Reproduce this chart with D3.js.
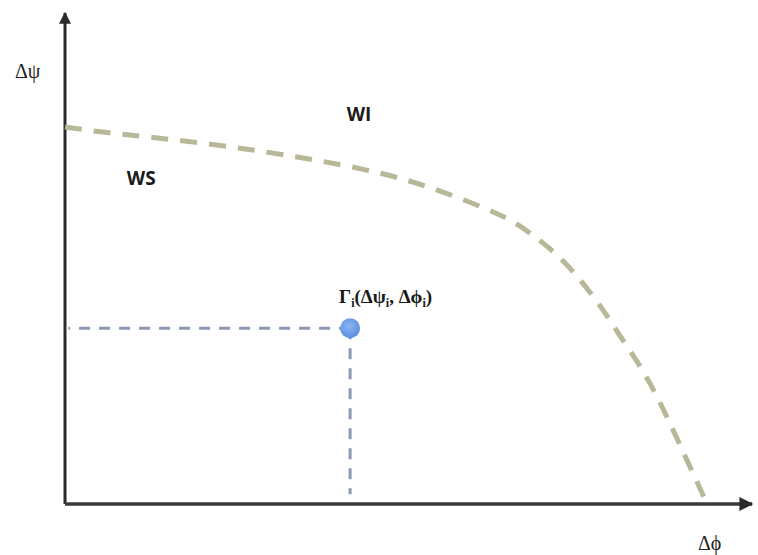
<!DOCTYPE html>
<html>
<head>
<meta charset="utf-8">
<script src="https://cdn.jsdelivr.net/npm/d3@7"></script>
<style>
  body { margin: 0; background: #fff; }
  svg { display: block; }
</style>
</head>
<body>
<svg width="758" height="555"></svg>
<script>
'use strict';

// boundary curve between the two regions (normalised units)
const boundaryX = [0, 0.047, 0.197, 0.342, 0.459, 0.531, 0.619, 0.658, 0.696, 0.725, 0.754, 0.782, 0.805, 0.830, 0.852, 0.873, 0.892, 0.934];
const boundaryY = [0.768, 0.758, 0.737, 0.707, 0.676, 0.646, 0.599, 0.572, 0.532, 0.497, 0.450, 0.399, 0.348, 0.297, 0.246, 0.187, 0.130, 0.002];

// the marked operating point
const pointX = [0.415];
const pointY = [0.358];

const regionLabels = ['WI', 'WS'];
const regionX = [0.41, 0.09];
const regionY = [0.78, 0.65];

const svg = d3.select('svg');

const x = d3.scaleLinear().domain([0, 1]).range([65, 752]);
const y = d3.scaleLinear().domain([0, 1]).range([504, 13]);

const defs = svg.append('defs');

defs.append('marker')
  .attr('id', 'arrow')
  .attr('viewBox', '0 0 10 10')
  .attr('refX', 9)
  .attr('refY', 5)
  .attr('markerWidth', 4)
  .attr('markerHeight', 4)
  .attr('markerUnits', 'strokeWidth')
  .attr('orient', 'auto')
  .append('path')
  .attr('d', 'M0,0 L10,5 L0,10 z')
  .attr('fill', '#2b2b2b');

const grad = defs.append('radialGradient')
  .attr('id', 'dot')
  .attr('cx', '45%')
  .attr('cy', '40%')
  .attr('r', '60%');
grad.append('stop').attr('offset', '0%').attr('stop-color', '#8fb4f2');
grad.append('stop').attr('offset', '100%').attr('stop-color', '#5b8fe0');

// axes
svg.append('line')
  .attr('x1', x(0)).attr('y1', y(0))
  .attr('x2', x(0)).attr('y2', y(1))
  .attr('stroke', '#2b2b2b')
  .attr('stroke-width', 3)
  .attr('marker-end', 'url(#arrow)');

svg.append('line')
  .attr('x1', x(0)).attr('y1', y(0))
  .attr('x2', x(1)).attr('y2', y(0))
  .attr('stroke', '#3a3a3a')
  .attr('stroke-width', 3.5)
  .attr('marker-end', 'url(#arrow)');

// projection lines from the point
const guides = svg.append('g')
  .attr('stroke', '#8a9ab3')
  .attr('stroke-width', 3)
  .attr('stroke-dasharray', '11,9')
  .attr('fill', 'none');

guides.append('line')
  .attr('x1', x(pointX[0])).attr('y1', y(pointY[0]))
  .attr('x2', x(0.005)).attr('y2', y(pointY[0]));

guides.append('line')
  .attr('x1', x(pointX[0])).attr('y1', y(pointY[0]))
  .attr('x2', x(pointX[0])).attr('y2', y(0.02));

// boundary
const curve = boundaryX.map((d, i) => [d, boundaryY[i]]);
const line = d3.line()
  .x(d => x(d[0]))
  .y(d => y(d[1]))
  .curve(d3.curveBasis);

svg.append('path')
  .datum(curve)
  .attr('d', line)
  .attr('fill', 'none')
  .attr('stroke', '#b8b798')
  .attr('stroke-width', 5)
  .attr('stroke-dasharray', '17,12');

svg.append('circle')
  .attr('cx', x(pointX[0]))
  .attr('cy', y(pointY[0]))
  .attr('r', 10)
  .attr('fill', 'url(#dot)');

// labels
svg.selectAll('.region')
  .data(regionLabels)
  .join('text')
  .attr('class', 'region')
  .attr('x', (d, i) => x(regionX[i]))
  .attr('y', (d, i) => y(regionY[i]))
  .attr('font-family', 'Open Sans, Lato, sans-serif')
  .attr('font-weight', 'bold')
  .attr('font-size', 19)
  .attr('fill', '#1a1a1a')
  .text(d => d);

const serif = 'Liberation Serif, DejaVu Serif, serif';

svg.append('text')
  .attr('x', 15)
  .attr('y', 78)
  .attr('font-family', serif)
  .attr('font-size', 20)
  .attr('fill', '#222')
  .text('Δψ');

svg.append('text')
  .attr('x', 698)
  .attr('y', 550)
  .attr('font-family', serif)
  .attr('font-size', 20)
  .attr('fill', '#222')
  .text('Δϕ');

const pt = svg.append('text')
  .attr('x', x(pointX[0]) - 11)
  .attr('y', 303)
  .attr('font-family', serif)
  .attr('font-weight', 'bold')
  .attr('font-size', 19)
  .attr('fill', '#1a1a1a');
pt.append('tspan').text('Γ');
pt.append('tspan').attr('font-size', 12).attr('dy', 4).text('i');
pt.append('tspan').attr('dy', -4).text('(Δψ');
pt.append('tspan').attr('font-size', 12).attr('dy', 4).text('i');
pt.append('tspan').attr('dy', -4).text(', Δϕ');
pt.append('tspan').attr('font-size', 12).attr('dy', 4).text('i');
pt.append('tspan').attr('dy', -4).text(')');
</script>
</body>
</html>
